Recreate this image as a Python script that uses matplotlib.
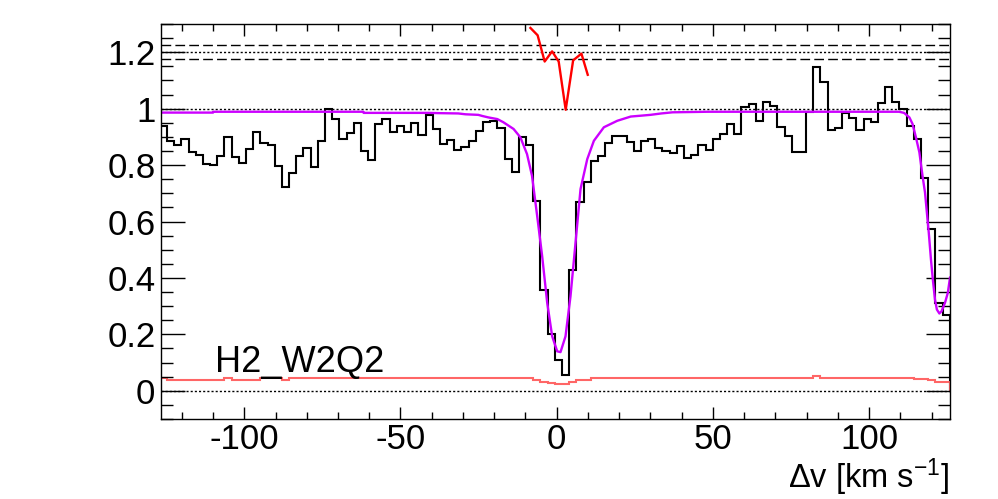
import numpy as np
import matplotlib
matplotlib.use('Agg')
import matplotlib.pyplot as plt

plt.rcParams['font.family'] = ['Liberation Sans', 'DejaVu Sans']
plt.rcParams['mathtext.fontset'] = 'custom'
plt.rcParams['mathtext.rm'] = 'Liberation Sans'
plt.rcParams['mathtext.it'] = 'Liberation Sans:italic'
plt.rcParams['axes.unicode_minus'] = False

# spectrum pixels (velocity grid of the binned flux)
bin_lo = -127.04
bin_width = 2.2987

# normalised flux per pixel
flux = [0.940, 0.886, 0.872, 0.892, 0.848, 0.837, 0.803, 0.800, 0.833, 0.901,
        0.829, 0.809, 0.857, 0.916, 0.880, 0.872, 0.797, 0.723, 0.771, 0.833,
        0.860, 0.793, 0.886, 0.999, 0.963, 0.892, 0.912, 0.950, 0.851, 0.819,
        0.944, 0.963, 0.918, 0.940, 0.918, 0.950, 0.908, 0.979, 0.928, 0.875,
        0.890, 0.853, 0.865, 0.886, 0.922, 0.954, 0.957, 0.931, 0.821, 0.775,
        0.901, 0.871, 0.673, 0.357, 0.203, 0.108, 0.057, 0.428, 0.669, 0.741,
        0.815, 0.833, 0.878, 0.904, 0.904, 0.882, 0.851, 0.886, 0.892, 0.859,
        0.851, 0.843, 0.869, 0.824, 0.835, 0.871, 0.854, 0.892, 0.910, 0.946,
        0.910, 1.005, 1.017, 0.957, 1.025, 1.010, 0.936, 0.904, 0.847, 0.847,
        0.987, 1.147, 1.096, 0.925, 0.932, 0.985, 0.967, 0.925, 0.964, 0.954,
        1.019, 1.075, 1.023, 0.999, 0.940, 0.892, 0.753, 0.572, 0.312, 0.267]

# flux error per pixel
err = [0.045, 0.039, 0.039, 0.039, 0.039, 0.039, 0.040, 0.040, 0.040, 0.044,
       0.040, 0.040, 0.040, 0.040, 0.045, 0.045, 0.045, 0.039, 0.044, 0.044,
       0.044, 0.044, 0.044, 0.044, 0.044, 0.044, 0.044, 0.044, 0.044, 0.044,
       0.044, 0.044, 0.044, 0.044, 0.044, 0.044, 0.044, 0.044, 0.044, 0.044,
       0.044, 0.044, 0.044, 0.044, 0.044, 0.044, 0.044, 0.044, 0.044, 0.044,
       0.044, 0.044, 0.039, 0.032, 0.027, 0.025, 0.025, 0.032, 0.039, 0.039,
       0.044, 0.044, 0.044, 0.044, 0.044, 0.044, 0.044, 0.044, 0.044, 0.044,
       0.044, 0.044, 0.044, 0.044, 0.044, 0.044, 0.044, 0.044, 0.044, 0.047,
       0.045, 0.047, 0.045, 0.045, 0.046, 0.046, 0.044, 0.046, 0.044, 0.047,
       0.047, 0.051, 0.047, 0.047, 0.047, 0.047, 0.047, 0.047, 0.047, 0.047,
       0.047, 0.047, 0.047, 0.047, 0.047, 0.043, 0.043, 0.037, 0.032, 0.032]

# fitted model profile
fit_v = [-126.7, -110.0, -109.9, -61.9, -61.8, -41.1, -37.3, -31.5, -29.2, -25.1,
         -23.8, -21.9, -19.0, -17.1, -13.8, -11.6, -9.5, -7.9, -6.25, -4.65,
         -3.04, -1.44, 0.16, 1.22, 2.82, 4.42, 6.03, 7.63, 9.78, 11.9,
         15.1, 19.4, 23.7, 26.9, 30.0, 33.5, 37.1, 48.3, 109.6, 111.2,
         112.9, 113.9, 115.0, 116.1, 117.1, 117.9, 118.5, 119.1, 119.8, 120.4,
         121.1, 121.7, 122.5, 123.2, 124.3, 125.2, 125.9]
fit_f = [0.986, 0.986, 0.989, 0.989, 0.985, 0.985, 0.984, 0.983, 0.980, 0.978,
         0.974, 0.969, 0.963, 0.952, 0.928, 0.898, 0.839, 0.762, 0.620, 0.477,
         0.312, 0.193, 0.140, 0.137, 0.193, 0.335, 0.525, 0.715, 0.821, 0.886,
         0.934, 0.957, 0.972, 0.975, 0.978, 0.983, 0.987, 0.989, 0.989, 0.985,
         0.969, 0.946, 0.898, 0.845, 0.762, 0.703, 0.632, 0.561, 0.466, 0.395,
         0.323, 0.288, 0.274, 0.282, 0.312, 0.347, 0.401]

# residuals around the line centre
res_v = [-8.4, -6.1, -3.85, -1.47, 0.64, 2.88, 5.26, 7.92, 9.94]
res_f = [1.286, 1.260, 1.167, 1.203, 1.167, 0.996, 1.171, 1.195, 1.120]

edges = bin_lo + bin_width * np.arange(len(flux) + 1)

fig = plt.figure(figsize=(9.98, 4.99), dpi=100)
ax = fig.add_axes([0.1613, 0.1603, 0.7906, 0.7916])

ax.axhline(1.225, color='black', lw=1, ls=(0, (7, 3)))
ax.axhline(1.175, color='black', lw=1, ls=(0, (7, 3)))
ax.axhline(1.2, color='black', lw=1, ls=(0, (1.5, 1.5)))
ax.axhline(1.0, color='black', lw=1, ls=(0, (1.5, 1.5)))
ax.axhline(0.0, color='black', lw=1, ls=(0, (1.5, 1.5)))

ax.stairs(flux, edges, color='black', lw=1.5)
ax.stairs(err, edges, color='#ff6666', lw=1.5)
ax.plot(fit_v, fit_f, color='#cc00ff', lw=1.7)
ax.plot(res_v, res_f, color='#ff0000', lw=1.7)

ax.text(0.0685, 0.12, 'H2_W2Q2', transform=ax.transAxes, fontsize=26,
        ha='left', va='baseline')
fig.text(0.951, 0.022, r'$\Delta$v [km s$^{-1}$]', fontsize=23.5,
         ha='right', va='baseline')

ax.set_xlim(-126.67, 125.9)
ax.set_ylim(-0.1, 1.3)
ax.set_xticks([-100, -50, 0, 50, 100])
ax.set_xticklabels(['-100', '-50', '0', '50', '100'])
ax.set_xticks(np.arange(-120, 121, 10), minor=True)
ax.set_yticks([0, 0.2, 0.4, 0.6, 0.8, 1.0, 1.2])
ax.set_yticklabels(['0', '0.2', '0.4', '0.6', '0.8', '1', '1.2'])
ax.set_yticks(np.arange(-0.1, 1.31, 0.05), minor=True)

ax.tick_params(which='both', direction='in', top=True, right=True,
               labelsize=25, width=1)
ax.tick_params(axis='y', which='major', length=17.3, pad=4)
ax.tick_params(axis='y', which='minor', length=8.6)
ax.tick_params(axis='x', which='major', length=8.6, pad=3)
ax.tick_params(axis='x', which='minor', length=4.7)
for s in ax.spines.values():
    s.set_linewidth(1)

fig.savefig('out.png', dpi=100)
